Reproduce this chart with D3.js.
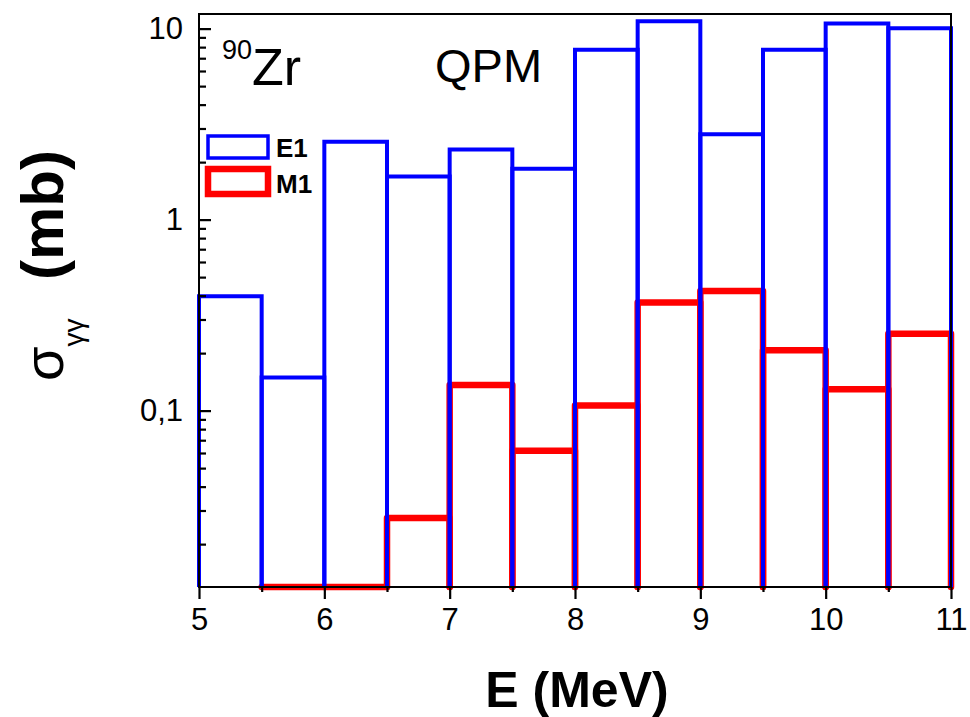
<!DOCTYPE html>
<html>
<head>
<meta charset="utf-8">
<script src="https://cdn.jsdelivr.net/npm/d3@7"></script>
<style>
  body { margin: 0; background: #fff; }
  svg { display: block; font-family: "Liberation Sans", Arial, sans-serif; }
</style>
</head>
<body>
<div id="chart"></div>
<script>
// bin edges (MeV)
const binLo = [5, 5.5, 6, 6.5, 7, 7.5, 8, 8.5, 9, 9.5, 10, 10.5];
const binHi = [5.5, 6, 6.5, 7, 7.5, 8, 8.5, 9, 9.5, 10, 10.5, 11];
// cross sections (mb)
const e1Values = [0.40, 0.15, 2.57, 1.69, 2.34, 1.86, 7.8, 11.0, 2.82, 7.8, 10.7, 10.1];
const m1Values = [null, 0.01, 0.01, 0.0276, 0.137, 0.062, 0.107, 0.37, 0.425, 0.208, 0.130, 0.254];

const xTicks = [5, 6, 7, 8, 9, 10, 11];
const xMinorTicks = [5.5, 6.5, 7.5, 8.5, 9.5, 10.5];
const yTicks = [0.1, 1, 10];
const yTickLabels = ['0,1', '1', '10'];
const yMinorTicks = [0.02, 0.03, 0.04, 0.05, 0.06, 0.07, 0.08, 0.09,
  0.2, 0.3, 0.4, 0.5, 0.6, 0.7, 0.8, 0.9, 2, 3, 4, 5, 6, 7, 8, 9];

const W = 970, H = 717;
const plotL = 199, plotR = 951, plotT = 14, plotB = 587;

const svg = d3.select('#chart').append('svg')
  .attr('width', W)
  .attr('height', H);

const x = d3.scaleLinear().domain([5, 11]).range([plotL, plotR]);
const y = d3.scaleLog().domain([0.012, 12]).range([plotB, plotT]).clamp(true);

// each bin drawn as an open column: left side, top, right side
function column(lo, hi, v) {
  const p = d3.path();
  p.moveTo(x(lo), plotB);
  p.lineTo(x(lo), y(v));
  p.lineTo(x(hi), y(v));
  p.lineTo(x(hi), plotB);
  return p.toString();
}

const m1Bins = binLo.map((lo, i) => ({ lo, hi: binHi[i], v: m1Values[i] })).filter(d => d.v !== null);
const e1Bins = binLo.map((lo, i) => ({ lo, hi: binHi[i], v: e1Values[i] }));

svg.append('g').selectAll('path')
  .data(m1Bins)
  .join('path')
  .attr('d', d => column(d.lo, d.hi, d.v))
  .attr('fill', 'none')
  .attr('stroke', '#ff0000')
  .attr('stroke-width', 6.5)
  .attr('stroke-linejoin', 'round')
  .attr('stroke-linecap', 'round');

svg.append('g').selectAll('path')
  .data(e1Bins)
  .join('path')
  .attr('d', d => column(d.lo, d.hi, d.v))
  .attr('fill', 'none')
  .attr('stroke', '#0000ff')
  .attr('stroke-width', 4);

// y ticks point inward, drawn by hand from the scale
const yTickG = svg.append('g').attr('stroke', '#000').attr('stroke-width', 2.2);
yTickG.selectAll('line.major')
  .data(yTicks)
  .join('line')
  .attr('class', 'major')
  .attr('x1', plotL).attr('x2', plotL + 12)
  .attr('y1', d => y(d)).attr('y2', d => y(d));
yTickG.selectAll('line.minor')
  .data(yMinorTicks)
  .join('line')
  .attr('class', 'minor')
  .attr('x1', plotL).attr('x2', plotL + 7)
  .attr('y1', d => y(d)).attr('y2', d => y(d));

svg.append('g').selectAll('text')
  .data(yTicks)
  .join('text')
  .attr('x', plotL - 16)
  .attr('y', d => y(d))
  .attr('dy', '0.32em')
  .attr('text-anchor', 'end')
  .attr('font-size', 31)
  .text((d, i) => yTickLabels[i]);

// x axis
const xAxis = svg.append('g')
  .attr('transform', `translate(0,${plotB})`)
  .call(d3.axisBottom(x).tickValues(xTicks).tickSize(12).tickPadding(9)
    .tickFormat(d3.format('d')));
const xMinor = svg.append('g')
  .attr('transform', `translate(0,${plotB})`)
  .call(d3.axisBottom(x).tickValues(xMinorTicks).tickSize(5).tickFormat(''));

[xAxis, xMinor].forEach(g => {
  g.select('.domain').remove();
  g.selectAll('line').attr('stroke', '#000').attr('stroke-width', 2.2);
  g.selectAll('text').attr('font-size', 31).attr('fill', '#000')
    .attr('font-family', '"Liberation Sans", Arial, sans-serif');
});

// frame
svg.append('rect')
  .attr('x', plotL).attr('y', plotT)
  .attr('width', plotR - plotL).attr('height', plotB - plotT)
  .attr('fill', 'none')
  .attr('stroke', '#000')
  .attr('stroke-width', 2);

// axis titles
svg.append('text')
  .attr('x', (plotL + plotR) / 2 + 2)
  .attr('y', 707)
  .attr('text-anchor', 'middle')
  .attr('font-size', 50)
  .attr('font-weight', 'bold')
  .text('E (MeV)');

const yt = svg.append('text')
  .attr('transform', 'translate(63,381) rotate(-90)')
  .attr('font-size', 56);
yt.append('tspan').text('σ');
yt.append('tspan').attr('dy', 20).attr('font-size', 28).text('γγ');

svg.append('text')
  .attr('transform', 'translate(63,280) rotate(-90)')
  .attr('font-size', 60)
  .attr('font-weight', 'bold')
  .text('(mb)');

// labels inside plot
const zr = svg.append('text')
  .attr('x', 222)
  .attr('y', 85)
  .attr('font-size', 52);
zr.append('tspan').attr('font-size', 27).attr('dy', -26).text('90');
zr.append('tspan').attr('dy', 26).text('Zr');

svg.append('text')
  .attr('x', 435)
  .attr('y', 82)
  .attr('font-size', 47)
  .text('QPM');

// legend
const legend = [
  { name: 'E1', color: '#0000ff', width: 3.5, y0: 136, y1: 158 },
  { name: 'M1', color: '#ff0000', width: 6.5, y0: 169, y1: 194 }
];
const lg = svg.append('g');
legend.forEach(d => {
  lg.append('rect')
    .attr('x', 208).attr('y', d.y0)
    .attr('width', 60).attr('height', d.y1 - d.y0)
    .attr('fill', 'none')
    .attr('stroke', d.color)
    .attr('stroke-width', d.width);
  lg.append('text')
    .attr('x', 276)
    .attr('y', d.y1 - 1)
    .attr('font-size', 26)
    .attr('font-weight', 'bold')
    .text(d.name);
});
</script>
</body>
</html>
